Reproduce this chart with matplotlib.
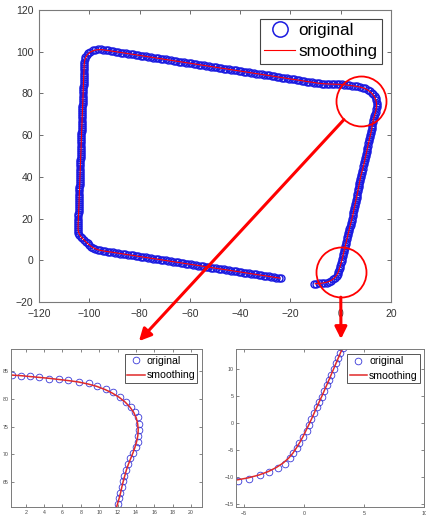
import numpy as np
import matplotlib.pyplot as plt
from matplotlib.patches import ConnectionPatch

plt.rcParams['font.family'] = ['Liberation Sans', 'DejaVu Sans']

hook_x = [-10.8, -9.8, -8.7, -7.6, -6.6, -5.5, -4.6, -3.7, -2.9, -2.2,
          -1.6, -1.2, -0.9, -0.6, -0.4, -0.1, 0.2, 0.4, 0.6, 0.8,
          1.05, 1.27, 1.47, 1.66, 1.88, 2.05, 2.24, 2.47, 2.63, 2.83, 3.02]
hook_y = [-11.3, -11.2, -11.1, -11.0, -10.9, -10.7, -10.3, -9.7, -9.1, -8.3,
          -7.5, -6.5, -5.6, -4.6, -3.6, -2.5, -1.4, -0.4, 0.8, 1.9,
          2.95, 4.0, 4.9, 6.0, 7.0, 8.0, 8.95, 10.1, 11.1, 12.0, 13.0]

right_x = [3.2, 3.4, 3.6, 3.9, 4.1, 4.3, 4.5, 4.7, 4.9, 5.0,
           5.2, 5.4, 5.6, 5.7, 5.9, 6.1, 6.3, 6.4, 6.6, 6.8,
           6.9, 7.1, 7.3, 7.4, 7.6, 7.7, 7.9, 8.1, 8.3, 8.6,
           8.8, 9.0, 9.2, 9.4, 9.6, 9.7, 9.9, 10.1, 10.3, 10.5,
           10.6, 10.8, 11.0, 11.2, 11.4, 11.6, 11.8]
right_y = [14, 15, 16, 17, 18, 19, 20, 21, 22, 23,
           24, 25, 26, 27, 28, 29, 30, 31, 32, 33,
           34, 35, 36, 37, 38, 39, 40, 41, 42, 43,
           44, 45, 46, 47, 48, 49, 50, 51, 52, 53,
           54, 55, 56, 57, 58, 59, 60]

turn_x = [12.1, 12.2, 12.3, 12.5, 12.6, 12.75, 12.95, 13.16, 13.4, 13.7,
          14.0, 14.18, 14.25, 14.3, 14.33, 14.2, 13.9, 13.5, 12.9, 12.25,
          11.56, 10.7, 9.8, 8.84, 7.8, 6.65, 5.6, 4.55, 3.45, 2.47,
          1.45, 0.47]
turn_y = [61.1, 62.1, 63.1, 64.1, 65.1, 66.1, 67.2, 68.3, 69.3, 70.3,
          71.3, 72.3, 73.35, 74.4, 75.5, 76.65, 77.6, 78.6, 79.5, 80.3,
          81.2, 81.8, 82.4, 82.8, 83.1, 83.4, 83.56, 83.6, 83.9, 84.1,
          84.16, 84.4]

top_x = [-0.5, -1.5, -2.5, -3.5, -4.5, -5.5, -6.5, -7.5, -8.5, -9.5,
         -10.5, -11.5, -12.5, -13.5, -14.5, -15.5, -16.5, -17.5, -18.5, -19.5,
         -20.5, -21.5, -22.5, -23.5, -24.5, -25.5, -26.5, -27.5, -28.5, -29.5,
         -30.5, -31.5, -32.5, -33.5, -34.5, -35.5, -36.5, -37.5, -38.5, -39.5,
         -40.5, -41.5, -42.5, -43.5, -44.5, -45.5, -46.5, -47.5, -48.5, -49.5,
         -50.5, -51.5, -52.5, -53.5, -54.5, -55.5, -56.5, -57.5, -58.5, -59.5,
         -60.5, -61.5, -62.5, -63.5, -64.5, -65.5, -66.5, -67.5, -68.5, -69.5,
         -70.5, -71.5, -72.5, -73.5, -74.5, -75.5, -76.5, -77.5, -78.5, -79.5,
         -80.5, -81.5, -82.5, -83.5, -84.5, -85.5, -86.5, -87.5, -88.5, -89.5,
         -90.5, -91.5, -92.5, -93.5, -94.5, -95.5]
top_y = [84.4, 84.4, 84.4, 84.5, 84.5, 84.5, 84.6, 84.6, 84.8, 85.0,
         85.2, 85.4, 85.5, 85.7, 85.9, 86.1, 86.3, 86.5, 86.7, 86.9,
         87.0, 87.2, 87.4, 87.6, 87.8, 88.0, 88.2, 88.4, 88.6, 88.7,
         88.9, 89.1, 89.3, 89.5, 89.7, 89.9, 90.1, 90.2, 90.4, 90.6,
         90.8, 91.0, 91.2, 91.4, 91.6, 91.7, 91.9, 92.1, 92.3, 92.5,
         92.7, 92.9, 93.1, 93.3, 93.4, 93.6, 93.8, 94.0, 94.2, 94.4,
         94.6, 94.8, 94.9, 95.1, 95.3, 95.5, 95.7, 95.9, 96.1, 96.3,
         96.4, 96.6, 96.8, 97.0, 97.2, 97.4, 97.6, 97.8, 98.0, 98.1,
         98.3, 98.5, 98.7, 98.9, 99.1, 99.3, 99.5, 99.6, 99.8, 100.0,
         100.2, 100.4, 100.6, 100.8, 100.9, 101.1]

corner_x = [-96.6, -97.7, -98.7, -99.6, -100.4, -101.1, -101.6, -101.9]
corner_y = [101.2, 101.0, 100.6, 100.0, 99.3, 98.4, 97.4, 96.3]

left_x = [-102.0, -102.0, -102.1, -102.1, -102.1, -102.2, -102.2, -102.2, -102.3, -102.3,
          -102.3, -102.3, -102.4, -102.4, -102.4, -102.5, -102.5, -102.5, -102.6, -102.6,
          -102.6, -102.7, -102.7, -102.7, -102.7, -102.8, -102.8, -102.8, -102.9, -102.9,
          -102.9, -103.0, -103.0, -103.0, -103.1, -103.1, -103.1, -103.1, -103.2, -103.2,
          -103.2, -103.3, -103.3, -103.3, -103.4, -103.4, -103.4, -103.5, -103.5, -103.5,
          -103.6, -103.6, -103.6, -103.6, -103.7, -103.7, -103.7, -103.8, -103.8, -103.8,
          -103.9, -103.9, -103.9, -104.0, -104.0, -104.0, -104.0, -104.1, -104.1, -104.1,
          -104.2, -104.2, -104.2, -104.3, -104.3, -104.3, -104.4, -104.4, -104.4, -104.5,
          -104.5, -104.5]
left_y = [95, 94, 93, 92, 91, 90, 89, 88, 87, 86,
          85, 84, 83, 82, 81, 80, 79, 78, 77, 76,
          75, 74, 73, 72, 71, 70, 69, 68, 67, 66,
          65, 64, 63, 62, 61, 60, 59, 58, 57, 56,
          55, 54, 53, 52, 51, 50, 49, 48, 47, 46,
          45, 44, 43, 42, 41, 40, 39, 38, 37, 36,
          35, 34, 33, 32, 31, 30, 29, 28, 27, 26,
          25, 24, 23, 22, 21, 20, 19, 18, 17, 16,
          15, 14]

bend_x = [-104.4, -104.0, -103.4, -102.7, -102.1, -101.4, -100.7, -100.0, -99.3, -98.5, -97.6, -96.6]
bend_y = [13.0, 12.1, 11.3, 10.5, 9.7, 8.9, 8.1, 7.3, 6.6, 5.9, 5.3, 4.9]

bottom_x = [-95.6, -94.6, -93.6, -92.6, -91.6, -90.6, -89.6, -88.6, -87.6, -86.6,
            -85.6, -84.6, -83.6, -82.6, -81.6, -80.6, -79.6, -78.6, -77.6, -76.6,
            -75.6, -74.6, -73.6, -72.6, -71.6, -70.6, -69.6, -68.6, -67.6, -66.6,
            -65.6, -64.6, -63.6, -62.6, -61.6, -60.6, -59.6, -58.6, -57.6, -56.6,
            -55.6, -54.6, -53.6, -52.6, -51.6, -50.6, -49.6, -48.6, -47.6, -46.6,
            -45.6, -44.6, -43.6, -42.6, -41.6, -40.6, -39.6, -38.6, -37.6, -36.6,
            -35.6, -34.6, -33.6, -32.6, -31.6, -30.6, -29.6, -28.6, -27.6, -26.6,
            -25.6, -24.6, -23.6]
bottom_y = [4.7, 4.5, 4.3, 4.2, 4.0, 3.8, 3.6, 3.4, 3.2, 3.0,
            2.9, 2.7, 2.5, 2.3, 2.1, 1.9, 1.7, 1.6, 1.4, 1.2,
            1.0, 0.8, 0.6, 0.4, 0.3, 0.1, -0.1, -0.3, -0.5, -0.7,
            -0.9, -1.0, -1.2, -1.4, -1.6, -1.8, -2.0, -2.2, -2.3, -2.5,
            -2.7, -2.9, -3.1, -3.3, -3.5, -3.6, -3.8, -4.0, -4.2, -4.4,
            -4.6, -4.8, -4.9, -5.1, -5.3, -5.5, -5.7, -5.9, -6.1, -6.2,
            -6.4, -6.6, -6.8, -7.0, -7.2, -7.4, -7.5, -7.7, -7.9, -8.1,
            -8.3, -8.5, -8.7]

orig_x = np.concatenate([hook_x, right_x, turn_x, top_x, corner_x, left_x, bend_x, bottom_x])
orig_y = np.concatenate([hook_y, right_y, turn_y, top_y, corner_y, left_y, bend_y, bottom_y])


def smooth(v, n=5):
    # moving average of the recorded points
    p = np.pad(v, n // 2, mode='edge')
    return np.convolve(p, np.ones(n) / n, mode='valid')


sm_x = smooth(orig_x)
sm_y = smooth(orig_y)

# zoomed regions
zoom_centres = [(8.0, 76.2), (0.0, -5.7)]
inset_xlim = [(0.4, 21.2), (-5.7, 10.0)]
inset_ylim = [(60.5, 89.0), (-15.6, 13.7)]
inset_xticks = [[2, 4, 6, 8, 10, 12, 14, 16, 18, 20], [-5, 0, 5, 10]]
inset_yticks = [[65, 70, 75, 80, 85], [-15, -10, -5, 0, 5, 10]]
arrow_tips = [(0.670, 1.05), (0.558, 1.065)]

W, H = 426, 520
fig = plt.figure(figsize=(W / 100, H / 100), dpi=100)


def rect(l, t, r, b):
    return [l / W, 1 - b / H, (r - l) / W, (b - t) / H]


spine_col = '#7a7a7a'

ax = fig.add_axes(rect(39, 10, 391, 302))
ax.plot(orig_x, orig_y, 'o', ms=5.0, mfc='none', mec='#1a1ae0', mew=1.0, label='original')
ax.plot(sm_x, sm_y, '-', color='red', lw=0.8, label='smoothing')
ax.set_xlim(-120, 20)
ax.set_ylim(-20, 120)
ax.set_xticks(range(-120, 21, 20))
ax.set_yticks(range(-20, 121, 20))
ax.tick_params(direction='in', top=True, right=True, length=3, width=0.6,
               color='#555555', labelsize=7.5, labelcolor='#333333')
ax.tick_params(axis='x', pad=5)
ax.tick_params(axis='y', pad=4)
for s in ax.spines.values():
    s.set_color(spine_col)
    s.set_linewidth(0.8)
leg = ax.legend(loc='upper right', bbox_to_anchor=(0.974, 0.969), fontsize=12.3,
                markerscale=2.2, handlelength=1.8, handletextpad=0.2, borderpad=0.25,
                labelspacing=0.35, borderaxespad=0, fancybox=False, framealpha=1,
                edgecolor='#444444')
leg.get_frame().set_linewidth(0.8)
leg.legend_handles[0].set_markeredgewidth(1.1)

for cx, cy in zoom_centres:
    ax.plot([cx], [cy], 'o', ms=36, mfc='none', mec='red', mew=1.3, clip_on=False, zorder=5)

inset_rects = [rect(11, 349, 202, 507), rect(235.7, 349.3, 424.3, 507.3)]
for i in range(2):
    axi = fig.add_axes(inset_rects[i])
    axi.plot(orig_x, orig_y, 'o', ms=4.8, mfc='none', mec='#3838d8', mew=0.6, label='original')
    axi.plot(sm_x, sm_y, '-', color='#e02a2a', lw=1.1, label='smoothing')
    axi.set_xlim(*inset_xlim[i])
    axi.set_ylim(*inset_ylim[i])
    axi.set_xticks(inset_xticks[i])
    axi.set_yticks(inset_yticks[i])
    axi.tick_params(direction='in', top=True, right=True, length=2, width=0.5,
                    color='#555555', labelsize=3.8, labelcolor='#444444')
    axi.tick_params(axis='x', pad=2.5)
    axi.tick_params(axis='y', pad=1.5)
    for s in axi.spines.values():
        s.set_color(spine_col)
        s.set_linewidth(0.7)
    lg = axi.legend(loc='upper right', bbox_to_anchor=(0.976, 0.968), fontsize=7.6,
                    handlelength=1.7, handletextpad=0.15, borderpad=0.2, labelspacing=0.4,
                    borderaxespad=0, fancybox=False, framealpha=1, edgecolor='#555555')
    lg.get_frame().set_linewidth(0.7)

    con = ConnectionPatch(xyA=zoom_centres[i], coordsA='data', axesA=ax,
                          xyB=arrow_tips[i], coordsB='axes fraction', axesB=axi,
                          arrowstyle='-|>', mutation_scale=18, lw=2.2, color='red',
                          shrinkA=18, shrinkB=0, zorder=6)
    fig.add_artist(con)

fig.savefig('out.png', dpi=100, facecolor='white')
